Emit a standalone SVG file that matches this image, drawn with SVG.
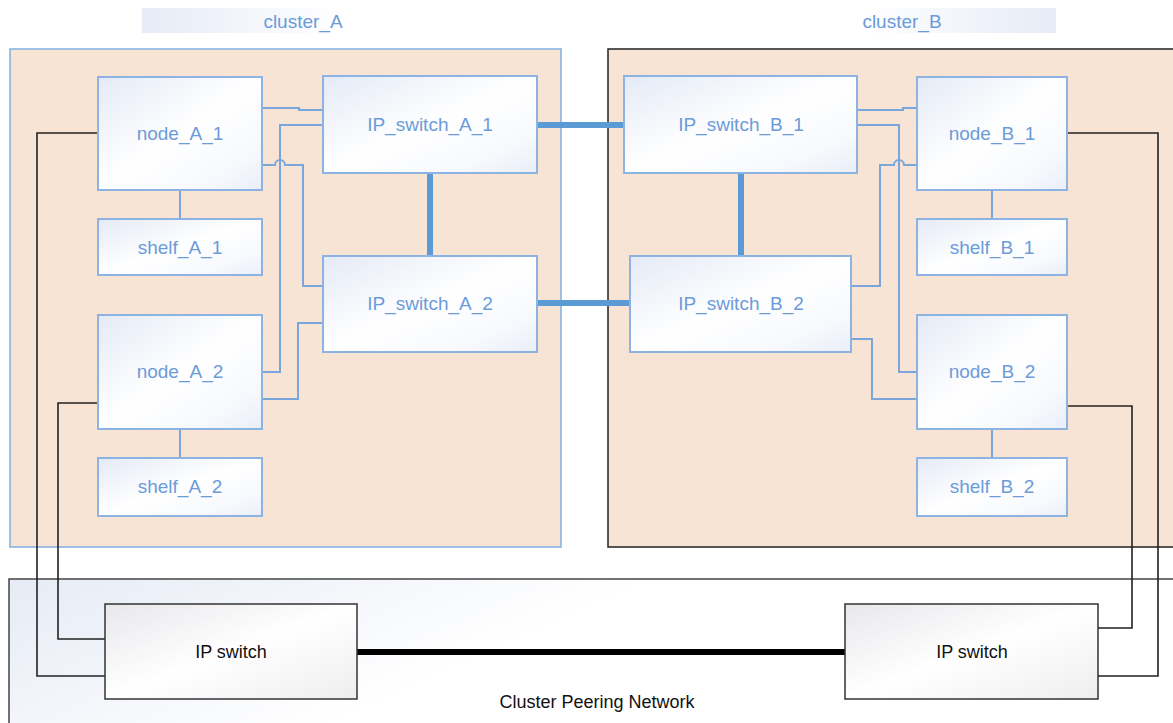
<svg xmlns="http://www.w3.org/2000/svg" width="1173" height="723" viewBox="0 0 1173 723">
<style>
.lbl{font-family:"Liberation Sans",Arial,sans-serif;font-size:19px;fill:#6b9bd9;text-anchor:middle}
.blk{font-family:"Liberation Sans",Arial,sans-serif;font-size:18px;fill:#111;text-anchor:middle}
.nd{fill:url(#ng);stroke:#8db3e2;stroke-width:2}
.sw{fill:url(#gg);stroke:#333;stroke-width:1.5}
.thin{fill:none;stroke:#7aa6dc;stroke-width:2}
.thick{fill:none;stroke:#5b9bd5;stroke-width:6;stroke-linecap:round}
.bl{fill:none;stroke:#222;stroke-width:1.6}
</style>
<defs>
<linearGradient id="ng" x1="0" y1="0" x2="1" y2="1">
<stop offset="0" stop-color="#e4eaf6"/><stop offset="0.5" stop-color="#ffffff"/><stop offset="0.8" stop-color="#f7f9fd"/><stop offset="1" stop-color="#e9eef8"/>
</linearGradient>
<linearGradient id="gg" x1="0" y1="0" x2="1" y2="1">
<stop offset="0" stop-color="#e8e8ec"/><stop offset="0.5" stop-color="#ffffff"/><stop offset="1" stop-color="#eeeeef"/>
</linearGradient>
<linearGradient id="la" x1="0" y1="0" x2="1" y2="0">
<stop offset="0" stop-color="#e6ebf6"/><stop offset="1" stop-color="#ffffff"/>
</linearGradient>
<linearGradient id="lb" x1="0" y1="0" x2="1" y2="0">
<stop offset="0" stop-color="#ffffff"/><stop offset="1" stop-color="#e6ebf6"/>
</linearGradient>
<linearGradient id="pg" x1="0" y1="0" x2="1" y2="0.3">
<stop offset="0" stop-color="#e6ebf5"/><stop offset="0.5" stop-color="#ffffff"/><stop offset="1" stop-color="#ffffff"/>
</linearGradient>
</defs>
<rect width="1173" height="723" fill="#ffffff"/>

<g id="cluster_A">
<rect x="142" y="8" width="200" height="25" fill="url(#la)"/>
<text class="lbl" x="303" y="28">cluster_A</text>
<rect x="10" y="49" width="551" height="498" fill="#f8e4d4" stroke="#7fb0e0" stroke-width="1.5"/>
</g>
<g id="cluster_B">
<rect x="862" y="8" width="194" height="25" fill="url(#lb)"/>
<text class="lbl" x="902" y="28">cluster_B</text>
<rect x="608" y="49" width="580" height="498" fill="#f8e4d4" stroke="#222" stroke-width="1.5"/>
</g>
<g id="peering">
<rect x="9" y="579" width="1180" height="160" fill="url(#pg)" stroke="#444" stroke-width="1.5"/>
<text class="blk" x="597" y="708">Cluster Peering Network</text>
</g>

<g id="connectors">
<path class="thin" d="M262,108 H299 V110 H323"/>
<path class="thin" d="M323,125 H280 V372 H262"/>
<path class="thin" d="M262,165 H275 A5,5 0 0 1 285,165 H303 V286 H323"/>
<path class="thin" d="M262,399 H298 V323 H323"/>
<path class="thin" d="M180,190 V219"/>
<path class="thin" d="M180,429 V458"/>

<path class="thin" d="M857,110 H903 V108 H917"/>
<path class="thin" d="M857,125 H899 V372 H917"/>
<path class="thin" d="M917,165 H904 A5,5 0 0 0 894,165 H880 V286 H851"/>
<path class="thin" d="M851,339 H872 V399 H917"/>
<path class="thin" d="M992,190 V219"/>
<path class="thin" d="M992,429 V458"/>

<path class="thick" d="M430,173 V256"/>
<path class="thick" d="M741,173 V256"/>
<path class="thick" d="M537,125 H624"/>
<path class="thick" d="M537,303 H631"/>

<path class="bl" d="M98,133 H37 V676 H105"/>
<path class="bl" d="M98,403 H58 V639 H105"/>
<path class="bl" d="M1067,133 H1158 V676 H1098"/>
<path class="bl" d="M1067,406 H1132 V628 H1098"/>
<path d="M357,652 H845" fill="none" stroke="#000" stroke-width="6" stroke-linecap="round"/>
</g>

<g id="node_A_1"><rect class="nd" x="98" y="77" width="164" height="113"/><text class="lbl" x="180" y="140">node_A_1</text></g>
<g id="shelf_A_1"><rect class="nd" x="98" y="219" width="164" height="56"/><text class="lbl" x="180" y="254">shelf_A_1</text></g>
<g id="node_A_2"><rect class="nd" x="98" y="315" width="164" height="114"/><text class="lbl" x="180" y="378">node_A_2</text></g>
<g id="shelf_A_2"><rect class="nd" x="98" y="458" width="164" height="58"/><text class="lbl" x="180" y="493">shelf_A_2</text></g>
<g id="IP_switch_A_1"><rect class="nd" x="323" y="76" width="214" height="97"/><text class="lbl" x="430" y="131">IP_switch_A_1</text></g>
<g id="IP_switch_A_2"><rect class="nd" x="323" y="256" width="214" height="96"/><text class="lbl" x="430" y="310">IP_switch_A_2</text></g>

<g id="IP_switch_B_1"><rect class="nd" x="624" y="76" width="233" height="97"/><text class="lbl" x="741" y="131">IP_switch_B_1</text></g>
<g id="IP_switch_B_2"><rect class="nd" x="630" y="256" width="221" height="96"/><text class="lbl" x="741" y="310">IP_switch_B_2</text></g>
<g id="node_B_1"><rect class="nd" x="917" y="77" width="150" height="113"/><text class="lbl" x="992" y="140">node_B_1</text></g>
<g id="shelf_B_1"><rect class="nd" x="917" y="219" width="150" height="56"/><text class="lbl" x="992" y="254">shelf_B_1</text></g>
<g id="node_B_2"><rect class="nd" x="917" y="315" width="150" height="114"/><text class="lbl" x="992" y="378">node_B_2</text></g>
<g id="shelf_B_2"><rect class="nd" x="917" y="458" width="150" height="58"/><text class="lbl" x="992" y="493">shelf_B_2</text></g>

<g id="IP_switch_L"><rect class="sw" x="105" y="604" width="252" height="95"/><text class="blk" x="231" y="658">IP switch</text></g>
<g id="IP_switch_R"><rect class="sw" x="845" y="604" width="253" height="95"/><text class="blk" x="972" y="658">IP switch</text></g>
</svg>
